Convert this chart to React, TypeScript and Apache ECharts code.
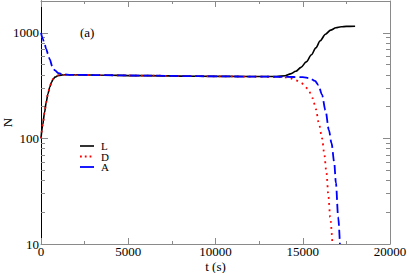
import React, { useEffect, useRef } from "react";
import * as echarts from "echarts";

// time (s) and N values
const tL = [0, 100, 200, 300, 400, 500, 600, 700, 800, 1000, 1300, 1700, 3000, 6000, 9000, 12000, 13500, 14000, 14300, 14600, 14900, 15200, 15500, 15750, 16000, 16300, 16600, 16900, 17200, 17500, 18000];
const nL = [100, 135, 175, 220, 265, 305, 340, 365, 380, 395, 400, 400, 398, 393, 388, 385, 385, 392, 408, 432, 470, 530, 620, 720, 840, 970, 1060, 1115, 1140, 1150, 1155];

const tD = [0, 100, 200, 300, 400, 500, 600, 700, 800, 1000, 1300, 1700, 3000, 6000, 9000, 12000, 13500, 14000, 14300, 14600, 14900, 15300, 15570, 15750, 15920, 16110, 16225, 16360, 16475, 16570, 16700];
const nD = [100, 135, 175, 220, 265, 305, 340, 365, 380, 395, 400, 400, 398, 393, 388, 385, 383, 378, 370, 355, 335, 295, 240, 190, 140, 100, 73, 47, 28, 18, 10];

const tA = [0, 100, 200, 300, 400, 500, 650, 800, 1000, 1300, 1700, 3000, 6000, 9000, 12000, 14000, 15000, 15400, 15700, 15900, 16100, 16300, 16500, 16650, 16800, 16900, 17030, 17130];
const nA = [1000, 880, 790, 700, 630, 560, 480, 440, 415, 403, 400, 398, 393, 388, 385, 383, 380, 372, 350, 320, 260, 185, 120, 90, 60, 38, 18, 10];

const xTicks = [0, 5000, 10000, 15000, 20000];
const yMajor = [10, 100, 1000];
const yMinor = [20, 30, 40, 50, 60, 70, 80, 90, 200, 300, 400, 500, 600, 700, 800, 900, 2000];

const legendNames = ["L", "D", "A"];

const FONT = "Liberation Serif";
const GRAY = "#8a8a8a";

function pairs(t: number[], n: number[]) {
  return t.map((v, i) => [v, n[i]]);
}

export default function App() {
  const ref = useRef<HTMLDivElement>(null);
  useEffect(() => {
    document.body.style.margin = "0";
    if (!ref.current) return;
    const chart = echarts.init(ref.current, null, { renderer: "svg" });
    const yBase = {
      type: "log",
      logBase: 10,
      min: 10,
      max: 2000,
      splitLine: { show: false },
    };
    const fmt = (v: number) => String(v);
    chart.setOption({
      animation: false,
      textStyle: { fontFamily: FONT },
      grid: { left: 41, top: 1, right: 17, bottom: 29, containLabel: false, outerBoundsMode: "none" },
      xAxis: [
        {
          type: "value",
          min: 0,
          max: 20000,
          interval: 5000,
          position: "bottom",
          name: "t (s)",
          nameLocation: "middle",
          nameGap: 16,
          nameMoveOverlap: false,
          nameTextStyle: { fontFamily: FONT, fontSize: 13, lineHeight: 12, color: "#000", verticalAlign: "top" },
          axisLine: { lineStyle: { color: GRAY, width: 1 } },
          axisTick: { inside: true, length: 6, lineStyle: { color: GRAY } },
          minorTick: { show: true, splitNumber: 2, length: 3, lineStyle: { color: GRAY } },
          axisLabel: {
            fontFamily: FONT,
            fontSize: 13,
            lineHeight: 12,
            color: "#000",
            margin: 1,
            formatter: fmt,
            customValues: xTicks,
          },
          splitLine: { show: false },
        },
        {
          type: "value",
          min: 0,
          max: 20000,
          interval: 5000,
          position: "top",
          axisLine: { lineStyle: { color: GRAY, width: 1 } },
          axisTick: { inside: true, length: 6, lineStyle: { color: GRAY } },
          minorTick: { show: true, splitNumber: 2, length: 3, lineStyle: { color: GRAY } },
          axisLabel: { show: false },
          splitLine: { show: false },
        },
      ],
      yAxis: [
        {
          ...yBase,
          position: "left",
          name: "N",
          nameLocation: "middle",
          nameGap: 27,
          nameRotate: 90,
          nameMoveOverlap: false,
          nameTextStyle: { fontFamily: FONT, fontSize: 13, color: "#000" },
          axisLine: { show: true, lineStyle: { color: "#000", width: 1 } },
          axisTick: { inside: true, length: 7, lineStyle: { color: GRAY }, customValues: yMajor },
          axisLabel: { fontFamily: FONT, fontSize: 13, color: "#000", margin: 2, formatter: fmt, customValues: yMajor },
        },
        {
          ...yBase,
          position: "left",
          axisLine: { show: false },
          axisTick: { inside: true, length: 4, lineStyle: { color: GRAY }, customValues: yMinor },
          axisLabel: { show: false },
        },
        {
          ...yBase,
          position: "right",
          axisLine: { show: true, lineStyle: { color: GRAY, width: 1 } },
          axisTick: { inside: true, length: 7, lineStyle: { color: GRAY }, customValues: yMajor },
          axisLabel: { show: false },
        },
        {
          ...yBase,
          position: "right",
          axisLine: { show: false },
          axisTick: { inside: true, length: 4, lineStyle: { color: GRAY }, customValues: yMinor },
          axisLabel: { show: false },
        },
      ],
      series: [
        {
          name: legendNames[0],
          type: "line",
          data: pairs(tL, nL),
          showSymbol: false,
          smooth: 0.3,
          smoothMonotone: "x",
          clip: true,
          lineStyle: { color: "#000", width: 1.6 },
          z: 3,
        },
        {
          name: legendNames[1],
          type: "line",
          data: pairs(tD, nD),
          showSymbol: false,
          smooth: 0.3,
          smoothMonotone: "x",
          clip: true,
          lineStyle: { color: "#ff0000", width: 1.8, type: [1.8, 4.2] },
          z: 4,
        },
        {
          name: legendNames[2],
          type: "line",
          data: pairs(tA, nA),
          showSymbol: false,
          smooth: 0.3,
          smoothMonotone: "x",
          clip: true,
          lineStyle: { color: "#0000ff", width: 1.8, type: [9, 4] },
          z: 5,
        },
      ],
      graphic: [
        {
          type: "text",
          left: 80,
          top: 26,
          style: { text: "(a)", fontFamily: FONT, fontSize: 13, fill: "#000" },
        },
        { type: "line", shape: { x1: 80, y1: 146, x2: 94, y2: 146 }, style: { stroke: "#000", lineWidth: 1.6 } },
        { type: "line", shape: { x1: 80, y1: 156.5, x2: 94, y2: 156.5 }, style: { stroke: "#ff0000", lineWidth: 1.8, lineDash: [1.8, 3] } },
        { type: "line", shape: { x1: 80, y1: 167, x2: 94, y2: 167 }, style: { stroke: "#0000ff", lineWidth: 1.8 } },
        { type: "text", x: 101, y: 146, style: { text: legendNames[0], fontFamily: FONT, fontSize: 11, fill: "#000", verticalAlign: "middle" } },
        { type: "text", x: 101, y: 156.5, style: { text: legendNames[1], fontFamily: FONT, fontSize: 11, fill: "#000", verticalAlign: "middle" } },
        { type: "text", x: 101, y: 167, style: { text: legendNames[2], fontFamily: FONT, fontSize: 11, fill: "#000", verticalAlign: "middle" } },
      ],
    });
    return () => chart.dispose();
  }, []);
  return <div ref={ref} style={{ width: 407, height: 273 }} />;
}
